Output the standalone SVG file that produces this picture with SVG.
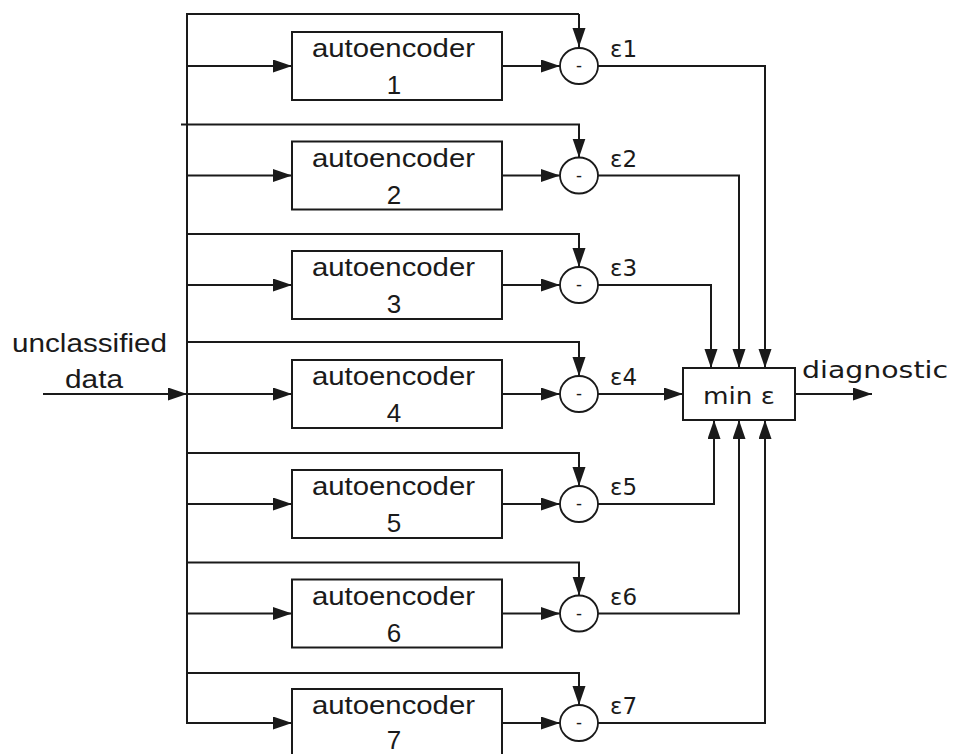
<svg xmlns="http://www.w3.org/2000/svg" width="955" height="754" viewBox="0 0 955 754">
  <style>
    .ln { fill: none; stroke: #1a1a1a; stroke-width: 2; }
    .box { fill: #ffffff; stroke: #1a1a1a; stroke-width: 2; }
    .sum { fill: #ffffff; stroke: #1a1a1a; stroke-width: 1.8; }
    .lbl { font-family: "Liberation Sans", Arial, sans-serif; font-size: 25px; fill: #1a1a1a; }
    .num { font-family: "Liberation Sans", Arial, sans-serif; font-size: 26px; fill: #1a1a1a; text-anchor: middle; }
    .eps { font-family: "DejaVu Sans", sans-serif; font-size: 23px; fill: #1a1a1a; }
    .minus { font-family: "Liberation Sans", Arial, sans-serif; font-size: 18px; fill: #1a1a1a; text-anchor: middle; }
  </style>
  <defs>
    <marker id="arr" markerUnits="userSpaceOnUse" markerWidth="20" markerHeight="14" refX="19" refY="6.5" orient="auto">
      <path d="M0,0 L19,6.5 L0,13 z" fill="#1a1a1a"/>
    </marker>
  </defs>
  <rect width="955" height="754" fill="#ffffff"/>

  <!-- connectors -->
  <g id="connectors">
    <!-- input and distribution trunk -->
    <line class="ln" x1="43" y1="394" x2="187" y2="394" marker-end="url(#arr)"/>
    <polyline class="ln" points="579,14 187,14 187,723 292,723" marker-end="url(#arr)"/>
    <line class="ln" x1="579" y1="14" x2="579" y2="47" marker-end="url(#arr)"/>
    <!-- feed lines into each subtractor -->
    <polyline class="ln" points="181,124.5 579,124.5 579,157.5" marker-end="url(#arr)"/>
    <polyline class="ln" points="187,234 579,234 579,267" marker-end="url(#arr)"/>
    <polyline class="ln" points="187,342 579,342 579,376" marker-end="url(#arr)"/>
    <polyline class="ln" points="187,453 579,453 579,486" marker-end="url(#arr)"/>
    <polyline class="ln" points="187,562.5 579,562.5 579,595.5" marker-end="url(#arr)"/>
    <polyline class="ln" points="187,673 579,673 579,705" marker-end="url(#arr)"/>
    <!-- trunk to autoencoders -->
    <line class="ln" x1="187" y1="66" x2="292" y2="66" marker-end="url(#arr)"/>
    <line class="ln" x1="187" y1="175.5" x2="292" y2="175.5" marker-end="url(#arr)"/>
    <line class="ln" x1="187" y1="285" x2="292" y2="285" marker-end="url(#arr)"/>
    <line class="ln" x1="187" y1="394" x2="292" y2="394" marker-end="url(#arr)"/>
    <line class="ln" x1="187" y1="504" x2="292" y2="504" marker-end="url(#arr)"/>
    <line class="ln" x1="187" y1="613.5" x2="292" y2="613.5" marker-end="url(#arr)"/>
    <!-- autoencoders to subtractors -->
    <line class="ln" x1="502" y1="66" x2="560" y2="66" marker-end="url(#arr)"/>
    <line class="ln" x1="502" y1="175.5" x2="560" y2="175.5" marker-end="url(#arr)"/>
    <line class="ln" x1="502" y1="285" x2="560" y2="285" marker-end="url(#arr)"/>
    <line class="ln" x1="502" y1="394" x2="560" y2="394" marker-end="url(#arr)"/>
    <line class="ln" x1="502" y1="504" x2="560" y2="504" marker-end="url(#arr)"/>
    <line class="ln" x1="502" y1="613.5" x2="560" y2="613.5" marker-end="url(#arr)"/>
    <line class="ln" x1="502" y1="723" x2="560" y2="723" marker-end="url(#arr)"/>
    <!-- errors into min block -->
    <polyline class="ln" points="598,66 765,66 765,368" marker-end="url(#arr)"/>
    <polyline class="ln" points="598,175.5 739,175.5 739,368" marker-end="url(#arr)"/>
    <polyline class="ln" points="598,285 711,285 711,368" marker-end="url(#arr)"/>
    <line class="ln" x1="598" y1="394" x2="683" y2="394" marker-end="url(#arr)"/>
    <polyline class="ln" points="598,504 714,504 714,420" marker-end="url(#arr)"/>
    <polyline class="ln" points="598,613.5 739,613.5 739,420" marker-end="url(#arr)"/>
    <polyline class="ln" points="598,723 765,723 765,420" marker-end="url(#arr)"/>
    <!-- output -->
    <line class="ln" x1="795" y1="394" x2="872" y2="394" marker-end="url(#arr)"/>
  </g>

  <g id="input-label">
    <text class="lbl" x="12" y="352" textLength="155" lengthAdjust="spacingAndGlyphs">unclassified</text>
    <text class="lbl" x="65" y="388" textLength="58" lengthAdjust="spacingAndGlyphs">data</text>
  </g>

  <g id="ae1">
    <rect class="box" x="292" y="32" width="210" height="68"/>
    <text class="lbl" x="312" y="57" textLength="163" lengthAdjust="spacingAndGlyphs">autoencoder</text>
    <text class="num" x="394" y="94">1</text>
  </g>
  <g id="ae2">
    <rect class="box" x="292" y="141.5" width="210" height="68"/>
    <text class="lbl" x="312" y="166.5" textLength="163" lengthAdjust="spacingAndGlyphs">autoencoder</text>
    <text class="num" x="394" y="203.5">2</text>
  </g>
  <g id="ae3">
    <rect class="box" x="292" y="251" width="210" height="68"/>
    <text class="lbl" x="312" y="276" textLength="163" lengthAdjust="spacingAndGlyphs">autoencoder</text>
    <text class="num" x="394" y="313">3</text>
  </g>
  <g id="ae4">
    <rect class="box" x="292" y="360" width="210" height="68"/>
    <text class="lbl" x="312" y="385" textLength="163" lengthAdjust="spacingAndGlyphs">autoencoder</text>
    <text class="num" x="394" y="422">4</text>
  </g>
  <g id="ae5">
    <rect class="box" x="292" y="470" width="210" height="68"/>
    <text class="lbl" x="312" y="495" textLength="163" lengthAdjust="spacingAndGlyphs">autoencoder</text>
    <text class="num" x="394" y="532">5</text>
  </g>
  <g id="ae6">
    <rect class="box" x="292" y="579.5" width="210" height="68"/>
    <text class="lbl" x="312" y="604.5" textLength="163" lengthAdjust="spacingAndGlyphs">autoencoder</text>
    <text class="num" x="394" y="641.5">6</text>
  </g>
  <g id="ae7">
    <rect class="box" x="292" y="689" width="210" height="68"/>
    <text class="lbl" x="312" y="714" textLength="163" lengthAdjust="spacingAndGlyphs">autoencoder</text>
    <text class="num" x="394" y="749">7</text>
  </g>

  <g id="sub1"><ellipse class="sum" cx="579" cy="66" rx="19" ry="18"/><text class="minus" x="579" y="72">-</text><text class="eps" x="610" y="57">ε1</text></g>
  <g id="sub2"><ellipse class="sum" cx="579" cy="175.5" rx="19" ry="18"/><text class="minus" x="579" y="181.5">-</text><text class="eps" x="610" y="166.5">ε2</text></g>
  <g id="sub3"><ellipse class="sum" cx="579" cy="285" rx="19" ry="18"/><text class="minus" x="579" y="291">-</text><text class="eps" x="610" y="276">ε3</text></g>
  <g id="sub4"><ellipse class="sum" cx="579" cy="394" rx="19" ry="18"/><text class="minus" x="579" y="400">-</text><text class="eps" x="610" y="385">ε4</text></g>
  <g id="sub5"><ellipse class="sum" cx="579" cy="504" rx="19" ry="18"/><text class="minus" x="579" y="510">-</text><text class="eps" x="610" y="495">ε5</text></g>
  <g id="sub6"><ellipse class="sum" cx="579" cy="613.5" rx="19" ry="18"/><text class="minus" x="579" y="619.5">-</text><text class="eps" x="610" y="604.5">ε6</text></g>
  <g id="sub7"><ellipse class="sum" cx="579" cy="723" rx="19" ry="18"/><text class="minus" x="579" y="729">-</text><text class="eps" x="610" y="714">ε7</text></g>

  <g id="min">
    <rect class="box" x="683" y="368" width="112" height="52"/>
    <text class="eps" x="703" y="404" textLength="72" lengthAdjust="spacingAndGlyphs">min ε</text>
  </g>

  <g id="output-label">
    <text class="eps" x="802" y="378" textLength="146" lengthAdjust="spacingAndGlyphs">diagnostic</text>
  </g>
</svg>
